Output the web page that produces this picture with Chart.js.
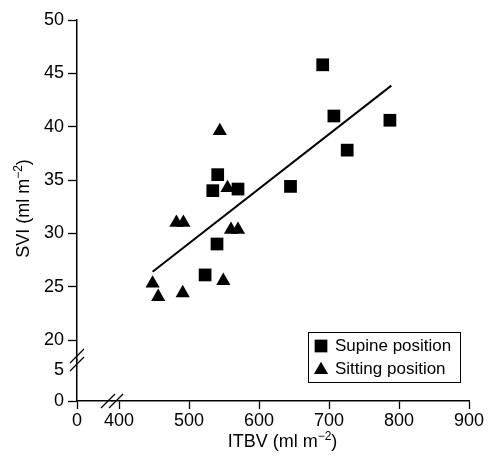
<!DOCTYPE html>
<html><head><meta charset="utf-8">
<script src="https://cdn.jsdelivr.net/npm/chart.js@4.4.1/dist/chart.umd.min.js"></script>
<style>html,body{margin:0;padding:0;background:#fff;}canvas{display:block;}</style>
</head><body>
<canvas id="c" width="489" height="459"></canvas>
<script>
// ---- data ----
const supineX = [691, 707, 787, 726, 541, 534, 570, 645, 540, 523];
const supineY = [45.8, 41.0, 40.6, 37.8, 35.5, 34.0, 34.15, 34.4, 29.0, 26.1];
const sittingX = [544, 555, 482, 492, 560, 570, 448, 456, 491, 549];
const sittingY = [39.6, 34.25, 31.0, 31.0, 30.35, 30.35, 25.3, 24.05, 24.4, 25.55];
const fitX = [448, 789];
const fitY = [26.4, 43.85];
const xTicksMain = [400, 500, 600, 700, 800, 900];
const xTicksLow = [0];
const yTicksMain = [20, 25, 30, 35, 40, 45, 50];
const yTicksLow = [0, 5];
const seriesLabels = ['Supine position', 'Sitting position'];
const xTitleParts = ['ITBV (ml m', '\u22122', ')'];
const yTitleParts = ['SVI (ml m', '\u22122', ')'];

const FONT = 'Liberation Sans, Arial, Helvetica, sans-serif';
const pts = (xs, ys) => xs.map((x, i) => ({x: x, y: ys[i]}));
const tickFont = {family: FONT, size: 18};

function drawSupText(ctx, parts, size, supSize, supRise) {
  ctx.font = size + 'px ' + FONT;
  const w0 = ctx.measureText(parts[0]).width;
  const w2 = ctx.measureText(parts[2]).width;
  ctx.font = supSize + 'px ' + FONT;
  const w1 = ctx.measureText(parts[1]).width;
  const total = w0 + w1 + w2;
  let x = -total / 2;
  ctx.textAlign = 'left';
  ctx.textBaseline = 'alphabetic';
  ctx.font = size + 'px ' + FONT;
  ctx.fillText(parts[0], x, 0); x += w0;
  ctx.font = supSize + 'px ' + FONT;
  ctx.fillText(parts[1], x, -supRise); x += w1;
  ctx.font = size + 'px ' + FONT;
  ctx.fillText(parts[2], x, 0);
}

const decor = {
  id: 'decor',
  afterDraw(chart) {
    const ctx = chart.ctx;
    const xs = chart.scales.x, ys = chart.scales.y, y0s = chart.scales.y0;
    const left = chart.chartArea.left, bottom = chart.chartArea.bottom;
    ctx.save();
    ctx.fillStyle = '#000';
    ctx.strokeStyle = '#000';
    // axis titles
    ctx.save();
    ctx.translate((xs.left + xs.right) / 2 - 8, 447);
    drawSupText(ctx, xTitleParts, 18, 12, 7);
    ctx.restore();
    ctx.save();
    ctx.translate(29, (ys.top + y0s.bottom) / 2 - 2);
    ctx.rotate(-Math.PI / 2);
    drawSupText(ctx, yTitleParts, 18, 12, 7);
    ctx.restore();
    // axis break marks
    ctx.lineWidth = 1.3;
    const yb = ys.bottom;
    [-4, 4].forEach(o => {
      ctx.beginPath();
      ctx.moveTo(left - 7, yb + o + 7);
      ctx.lineTo(left + 7, yb + o - 7);
      ctx.stroke();
    });
    const xb = xs.left;
    [-4, 4].forEach(o => {
      ctx.beginPath();
      ctx.moveTo(xb + o - 7, bottom + 7);
      ctx.lineTo(xb + o + 7, bottom - 7);
      ctx.stroke();
    });
    // legend
    const bx = 308, by = 332, bw = 152, bh = 50;
    ctx.lineWidth = 1;
    ctx.strokeRect(bx + 0.5, by + 0.5, bw, bh);
    const ds = chart.data.datasets;
    const rows = [346, 369];
    [0, 1].forEach(i => {
      const d = ds[i];
      const style = {pointStyle: d.pointStyle, radius: d.pointRadius, rotation: 0, borderWidth: 0};
      const cy = i === 0 ? rows[i] : rows[i] + 1;
      if (Chart.helpers && Chart.helpers.drawPoint) {
        Chart.helpers.drawPoint(ctx, style, 321, cy);
      }
      ctx.font = '17px ' + FONT;
      ctx.textAlign = 'left';
      ctx.textBaseline = 'middle';
      ctx.fillText(d.label, 335, rows[i]);
    });
    ctx.restore();
  }
};

const blackTick = {color: '#000', font: tickFont, autoSkip: false};

new Chart(document.getElementById('c'), {
  type: 'scatter',
  data: {
    datasets: [
      {label: seriesLabels[0], data: pts(supineX, supineY), pointStyle: 'rect', pointRadius: 9,
       pointBackgroundColor: '#000', pointBorderColor: '#000', pointBorderWidth: 0, xAxisID: 'x', yAxisID: 'y'},
      {label: seriesLabels[1], data: pts(sittingX, sittingY), pointStyle: 'triangle', pointRadius: 8.2,
       pointBackgroundColor: '#000', pointBorderColor: '#000', pointBorderWidth: 0, xAxisID: 'x', yAxisID: 'y'},
      {label: 'Regression', data: pts(fitX, fitY), showLine: true, pointRadius: 0, borderColor: '#000',
       borderWidth: 2, fill: false, xAxisID: 'x', yAxisID: 'y'}
    ]
  },
  options: {
    responsive: false,
    devicePixelRatio: 1,
    animation: false,
    events: [],
    layout: {padding: {top: 20, right: 20, left: 0, bottom: 0}},
    plugins: {legend: {display: false}, tooltip: {enabled: false}},
    scales: {
      x0: {type: 'linear', position: 'bottom', stack: 'xs', stackWeight: 35, min: 0, max: 50,
        afterBuildTicks: s => { s.ticks = xTicksLow.map(v => ({value: v})); },
        afterFit: s => { s.height = 58; },
        grid: {drawOnChartArea: false, tickLength: 8, tickColor: '#000', tickWidth: 1.3},
        border: {color: '#000', width: 1.5},
        ticks: Object.assign({padding: 1, maxRotation: 0}, blackTick)},
      x: {type: 'linear', position: 'bottom', stack: 'xs', stackWeight: 357, min: 390, max: 900,
        afterBuildTicks: s => { s.ticks = xTicksMain.map(v => ({value: v})); },
        afterFit: s => { s.height = 58; },
        grid: {drawOnChartArea: false, tickLength: 8, tickColor: '#000', tickWidth: 1.3},
        border: {color: '#000', width: 1.5},
        ticks: Object.assign({padding: 1, maxRotation: 0}, blackTick)},
      y0: {type: 'linear', position: 'left', stack: 'ys', stackWeight: 41, min: 0, max: 6.6,
        afterBuildTicks: s => { s.ticks = yTicksLow.map(v => ({value: v})); },
        afterFit: s => { s.width = 77; },
        grid: {drawOnChartArea: false, tickLength: 9, tickWidth: 1.3,
          tickColor: c => (c.tick && c.tick.value === 5) ? 'rgba(0,0,0,0)' : '#000'},
        border: {color: '#000', width: 1.5},
        ticks: Object.assign({padding: 4}, blackTick)},
      y: {type: 'linear', position: 'left', stack: 'ys', stackWeight: 340, min: 18.125, max: 50,
        afterBuildTicks: s => { s.ticks = yTicksMain.map(v => ({value: v})); },
        afterFit: s => { s.width = 77; },
        grid: {drawOnChartArea: false, tickLength: 9, tickColor: '#000', tickWidth: 1.3},
        border: {color: '#000', width: 1.5},
        ticks: Object.assign({padding: 4}, blackTick)}
    }
  },
  plugins: [decor]
});
</script>
</body></html>
